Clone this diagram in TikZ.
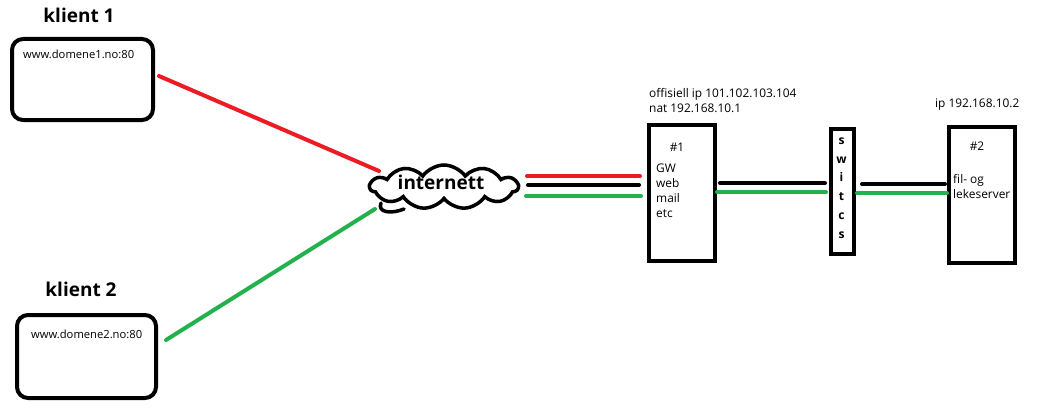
\documentclass[tikz,border=0pt]{standalone}
\usepackage{fontspec}
\setmainfont{Open Sans}
\usetikzlibrary{shapes.symbols,calc}
\definecolor{pred}{HTML}{ED1C24}
\definecolor{pgreen}{HTML}{22B14C}
\tikzset{
  frame/.style={draw=black,line width=4pt,inner sep=0pt,outer sep=0pt},
  client/.style={frame,rounded corners=11pt},
  small/.style={inner sep=0pt,font=\fontsize{11.2}{13}\selectfont},
  info/.style={inner sep=0pt,font=\fontsize{11.9}{14}\selectfont},
  title/.style={inner sep=0pt,font=\bfseries\fontsize{19}{22}\selectfont},
  wire/.style={line width=4pt,line cap=round},
}
\begin{document}
\begin{tikzpicture}[x=1pt,y=-1pt]
\useasboundingbox[fill=white] (0,0) rectangle (1039,420);

% clients
\node[client,minimum width=141pt,minimum height=81pt] (k1) at (82.5,79.5) {};
\node[client,minimum width=139pt,minimum height=83pt] (k2) at (86.5,356.5) {};
\node[title,anchor=base] (k1t) at (79,23) {klient 1};
\node[title,anchor=base] (k2t) at (81,296) {klient 2};
\node[small,anchor=base west] (k1u) at (23,59) {www.domene1.no:80};
\node[small,anchor=base west] (k2u) at (31,338) {www.domene2.no:80};

% cloud
\node[cloud,draw,line width=3.5pt,cloud puffs=11,cloud puff arc=110,aspect=3.3,
      minimum width=148pt,minimum height=44pt,inner sep=0pt] (net) at (444,187) {};
\node[title,anchor=base] (nett) at (441,189) {internett};
\draw[line width=3.5pt,line cap=round] (381,203) .. controls (377,213) and (392,214) .. (404,209);

% servers
\node[frame,minimum width=66pt,minimum height=136pt] (s1) at (682,193) {};
\node[frame,minimum width=23pt,minimum height=125pt] (sw) at (842.5,191.5) {};
\node[frame,minimum width=66pt,minimum height=136pt] (s2) at (982,195) {};

\node[info,anchor=base west] (ip1) at (649,97) {offisiell ip 101.102.103.104};
\node[info,anchor=base west] (nat) at (649,112) {nat 192.168.10.1};
\node[info,anchor=base west] (ip2) at (935,107) {ip 192.168.10.2};
\node[info,anchor=base] (n1) at (677,151) {\#1};
\node[info,anchor=base] (n2) at (977,150) {\#2};
\node[info,anchor=base west] (gw) at (656,172) {GW};
\node[info,anchor=base west] (web) at (656,187.5) {web};
\node[info,anchor=base west] (mail) at (656,202.5) {mail};
\node[info,anchor=base west] (etc) at (656,217) {etc};
\node[info,anchor=base west] (fil) at (953,183) {fil- og};
\node[info,anchor=base west] (leke) at (953,198) {lekeserver};
\node[inner sep=0pt,align=center,font=\bfseries\fontsize{12}{18.8}\selectfont] (swt) at (841.5,188) {s\\w\\i\\t\\c\\s};

% connector end points
\coordinate (r1a) at (159,76);   \coordinate (r1b) at (379,171);
\coordinate (g1a) at (166,340);  \coordinate (g1b) at (375,209);
\coordinate (r2a) at (527,176);  \coordinate (r2b) at (640,176);
\coordinate (b2a) at (528,185);  \coordinate (b2b) at (639,185);
\coordinate (g2a) at (526,196);  \coordinate (g2b) at (641,196);
\coordinate (b3a) at (720,183);  \coordinate (b3b) at (825,183);
\coordinate (g3a) at (717,192);  \coordinate (g3b) at (826,192);
\coordinate (b4a) at (862,184);  \coordinate (b4b) at (945,184);
\coordinate (g4a) at (857,193);  \coordinate (g4b) at (947,193);

\draw[wire,pred] (r1a) -- (r1b);
\draw[wire,pgreen] (g1a) -- (g1b);
\draw[wire,pred] (r2a) -- (r2b);
\draw[wire,black] (b2a) -- (b2b);
\draw[wire,pgreen] (g2a) -- (g2b);
\draw[wire,black] (b3a) -- (b3b);
\draw[wire,pgreen] (g3a) -- (g3b);
\draw[wire,black] (b4a) -- (b4b);
\draw[wire,pgreen] (g4a) -- (g4b);
\end{tikzpicture}
\end{document}
